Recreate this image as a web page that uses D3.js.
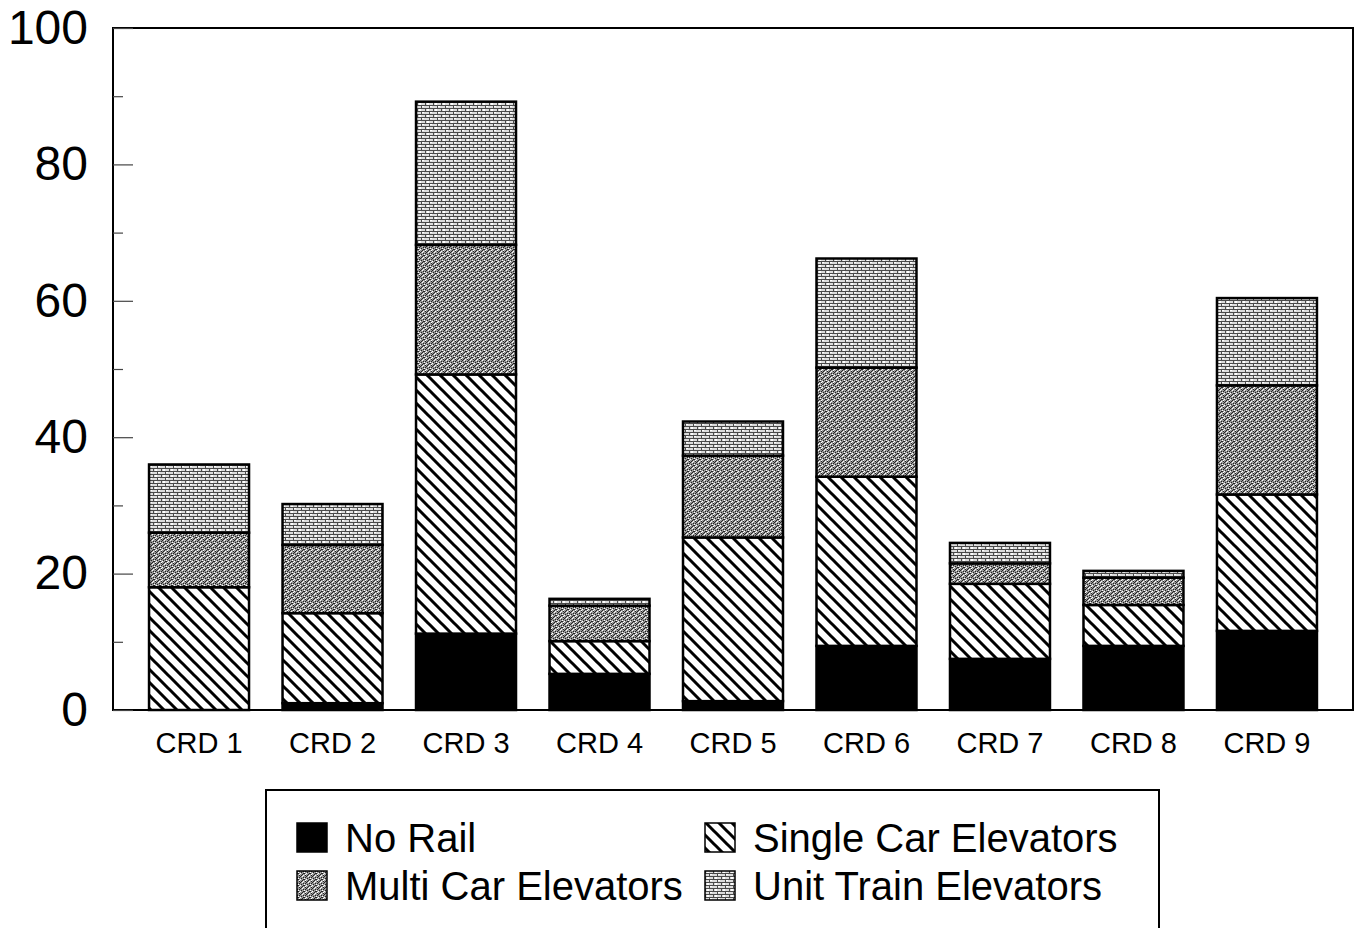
<!DOCTYPE html>
<html>
<head>
<meta charset="utf-8">
<script src="https://cdn.jsdelivr.net/npm/d3@7"></script>
<style>
  html, body { margin: 0; padding: 0; background: #fff; }
  svg { display: block; }
  text { font-family: "Liberation Sans", Arial, sans-serif; fill: #000; }
</style>
</head>
<body>
<svg id="chart" width="1357" height="928"></svg>
<script>
// ---- data ----
const categories = ["CRD 1","CRD 2","CRD 3","CRD 4","CRD 5","CRD 6","CRD 7","CRD 8","CRD 9"];
const noRail      = [0,    1,    11.2, 5.3, 1.3,  9.4,  7.5, 9.4, 11.6];
const singleCar   = [18,   13.2, 38,   4.8, 24,   24.8, 11,  6,   20];
const multiCar    = [8,    10,   19,   5.2, 12,   16,   3,   4,   16];
const unitTrain   = [10,   6,    21,   1,   5,    16,   3,   1,   12.8];
const seriesNames = ["No Rail","Single Car Elevators","Multi Car Elevators","Unit Train Elevators"];
const yTicks = [0,20,40,60,80,100];
const yMinorTicks = [10,30,50,70,90];

const svg = d3.select("#chart");
const defs = svg.append("defs");

// hatch pattern (single car)
const hatch = defs.append("pattern").attr("id","hatch")
  .attr("patternUnits","userSpaceOnUse").attr("width",13).attr("height",13);
hatch.append("rect").attr("width",13).attr("height",13).attr("fill","#fff");
hatch.append("path").attr("d","M-3,-3 L16,16 M-16,-3 L3,16 M10,-3 L29,16")
  .attr("stroke","#000").attr("stroke-width",3);

// multi car stipple (darker gray)
const multi = defs.append("pattern").attr("id","multi")
  .attr("patternUnits","userSpaceOnUse").attr("width",6).attr("height",6);
multi.append("rect").attr("width",6).attr("height",6).attr("fill","#989898");
[[0,0],[3,1],[1,2],[4,3],[2,4],[5,5],[5,1],[1,5],[3,3]].forEach(([px,py]) =>
  multi.append("rect").attr("x",px).attr("y",py).attr("width",1).attr("height",1).attr("fill","#222"));
[[2,0],[0,3],[4,2],[3,5],[5,4]].forEach(([px,py]) =>
  multi.append("rect").attr("x",px).attr("y",py).attr("width",1).attr("height",1).attr("fill","#fff"));

// unit train brick grid (lighter)
const unit = defs.append("pattern").attr("id","unit")
  .attr("patternUnits","userSpaceOnUse").attr("width",8).attr("height",6);
unit.append("rect").attr("width",8).attr("height",6).attr("fill","#dcdcdc");
unit.append("path").attr("d","M0,0.5 H8 M0,3.5 H8 M1.5,0 V3 M5.5,3 V6")
  .attr("stroke","#4a4a4a").attr("stroke-width",1);
unit.append("rect").attr("x",3).attr("y",1).attr("width",2).attr("height",2).attr("fill","#fff");
unit.append("rect").attr("x",6).attr("y",4).attr("width",2).attr("height",1).attr("fill","#fff");

const fills = ["#000","url(#hatch)","url(#multi)","url(#unit)"];

// ---- scales ----
const plotLeft = 113, plotRight = 1353, plotTop = 28, plotBottom = 710;
const x = d3.scaleBand().domain(categories).range([plotLeft, plotRight])
  .paddingInner(0.251).paddingOuter(0.27);
const y = d3.scaleLinear().domain([0,100]).range([plotBottom, plotTop]);

// stacked data
const table = categories.map((c,i) => ({cat:c, s0:noRail[i], s1:singleCar[i], s2:multiCar[i], s3:unitTrain[i]}));
const stack = d3.stack().keys(["s0","s1","s2","s3"])(table);

// bars
const g = svg.append("g");
stack.forEach((layer, li) => {
  g.selectAll(null).data(layer).enter().append("rect")
    .attr("x", d => x(d.data.cat))
    .attr("width", x.bandwidth())
    .attr("y", d => y(d[1]))
    .attr("height", d => Math.max(0, y(d[0]) - y(d[1])))
    .attr("fill", fills[li])
    .attr("stroke", "#000")
    .attr("stroke-width", d => (d[1]-d[0]) > 0 ? 2.5 : 0);
});

// frame
svg.append("path")
  .attr("d", `M${plotLeft},${plotTop} H${plotRight} V${plotBottom} H${plotLeft} Z`)
  .attr("fill","none").attr("stroke","#000").attr("stroke-width",2);

// y axis
const yAxis = d3.axisLeft(y).tickValues(yTicks).tickSize(-20).tickPadding(25).tickFormat(d3.format("d"));
const ya = svg.append("g").attr("transform",`translate(${plotLeft},0)`).call(yAxis);
ya.select(".domain").remove();
ya.selectAll(".tick line").attr("stroke","#444").attr("stroke-width",1.2);
ya.selectAll(".tick text").style("font-size","48px").style("font-family","'Liberation Sans', Arial, sans-serif").attr("fill","#000");

const yMinor = d3.axisLeft(y).tickValues(yMinorTicks).tickSize(-10).tickFormat("");
const ym = svg.append("g").attr("transform",`translate(${plotLeft},0)`).call(yMinor);
ym.select(".domain").remove();
ym.selectAll(".tick line").attr("stroke","#444").attr("stroke-width",1.2);

// x axis labels
const xAxis = d3.axisBottom(x).tickSize(0).tickPadding(22);
const xa = svg.append("g").attr("transform",`translate(0,${plotBottom})`).call(xAxis);
xa.select(".domain").remove();
xa.selectAll(".tick text").style("font-size","29px").style("font-family","'Liberation Sans', Arial, sans-serif").attr("fill","#000");

// legend
svg.append("rect").attr("x",266).attr("y",790).attr("width",893).attr("height",160)
  .attr("fill","#fff").attr("stroke","#000").attr("stroke-width",2);
const legendItems = [
  {name: seriesNames[0], fill: fills[0], lx: 297, base: 852},
  {name: seriesNames[1], fill: fills[1], lx: 705, base: 852},
  {name: seriesNames[2], fill: fills[2], lx: 297, base: 900},
  {name: seriesNames[3], fill: fills[3], lx: 705, base: 900}
];
const lg = svg.append("g");
legendItems.forEach(it => {
  lg.append("rect").attr("x", it.lx).attr("y", it.base - 29).attr("width", 30).attr("height", 29)
    .attr("fill", it.fill).attr("stroke","#000").attr("stroke-width",1.5);
  lg.append("text").attr("x", it.lx + 48).attr("y", it.base)
    .style("font-size","40px").text(it.name);
});
</script>
</body>
</html>
